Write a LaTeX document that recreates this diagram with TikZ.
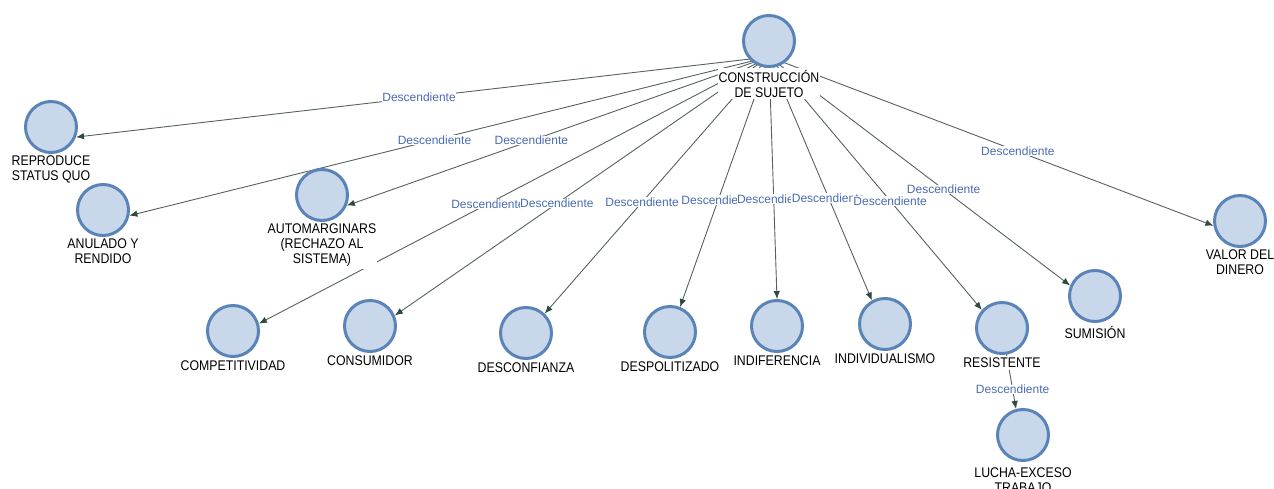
\documentclass[tikz,border=0pt]{standalone}
\usepackage{fontspec}
\newfontfamily\fuenteNodo[FakeStretch=0.88]{Liberation Sans}
\newfontfamily\fuenteFlecha{Liberation Sans}
\usetikzlibrary{arrows.meta, positioning, fit, backgrounds}
\definecolor{azulclaro}{HTML}{C8D7EA}
\definecolor{azulborde}{HTML}{5A84B8}
\definecolor{grislinea}{HTML}{56625F}
\definecolor{verdeflecha}{HTML}{2F4A3E}
\definecolor{azultexto}{HTML}{4A6CB4}
\colorlet{colConcepto}{azulclaro}
\colorlet{colBorde}{azulborde}
\colorlet{colLinea}{grislinea}
\colorlet{colEtiqueta}{azultexto}
\tikzset{
  nodoConcepto/.style={
    circle, draw=colBorde, fill=colConcepto, line width=3pt,
    minimum size=51pt, inner sep=0pt
  },
  etiquetaNodo/.style={
    align=center, font=\fuenteNodo\fontsize{14}{15}\selectfont,
    text=black, fill=white, inner xsep=1pt, inner ysep=2pt
  },
  flecha/.style={-{Latex[length=8pt, width=6.5pt, color=verdeflecha]},
    line width=0.9pt, colLinea},
  etiquetaFlecha/.style={font=\fuenteFlecha\fontsize{12}{12}\selectfont,
    text=colEtiqueta, fill=white, inner sep=0.5pt},
}

\begin{document}
\begin{tikzpicture}[x=1pt, y=-1pt]
  \useasboundingbox (0,0) rectangle (1274,489);

  % nodo raiz
  \node[nodoConcepto] (raiz) at (769,41) {};
  \node[etiquetaNodo, below=0pt of raiz] (raizE) {CONSTRUCCIÓN\\DE SUJETO};
  \node[fit=(raiz)(raizE), inner sep=0pt] (raizCaja) {};

  % conceptos descendientes
  \node[nodoConcepto] (rep) at (51,127) {};
  \node[etiquetaNodo, below=0pt of rep] (repE) {REPRODUCE\\STATUS QUO};
  \node[nodoConcepto] (anul) at (103,210) {};
  \node[etiquetaNodo, below=0pt of anul] (anulE) {ANULADO Y\\RENDIDO};
  \node[nodoConcepto] (autom) at (322,195) {};
  \node[etiquetaNodo, below=0pt of autom] (automE) {AUTOMARGINARS\\(RECHAZO AL\\SISTEMA)};
  \node[nodoConcepto] (comp) at (233,331) {};
  \node[etiquetaNodo, below=1pt of comp] (compE) {COMPETITIVIDAD};
  \node[nodoConcepto] (cons) at (370,326) {};
  \node[etiquetaNodo, below=1pt of cons] (consE) {CONSUMIDOR};
  \node[nodoConcepto] (desc) at (526,333) {};
  \node[etiquetaNodo, below=1pt of desc] (descE) {DESCONFIANZA};
  \node[nodoConcepto] (despol) at (670,332) {};
  \node[etiquetaNodo, below=1pt of despol] (despolE) {DESPOLITIZADO};
  \node[nodoConcepto] (indif) at (777,326) {};
  \node[etiquetaNodo, below=1pt of indif] (indifE) {INDIFERENCIA};
  \node[nodoConcepto] (indiv) at (885,324) {};
  \node[etiquetaNodo, below=1pt of indiv] (indivE) {INDIVIDUALISMO};
  \node[nodoConcepto] (resist) at (1002,328) {};
  \node[etiquetaNodo, below=1pt of resist] (resistE) {RESISTENTE};
  \node[nodoConcepto] (sumis) at (1095,296) {};
  \node[etiquetaNodo, below=1pt of sumis] (sumisE) {SUMISIÓN};
  \node[nodoConcepto] (valor) at (1240,221) {};
  \node[etiquetaNodo, below=0pt of valor] (valorE) {VALOR DEL\\DINERO};
  \node[nodoConcepto] (lucha) at (1023,435) {};
  \node[etiquetaNodo, below=4pt of lucha] (luchaE) {LUCHA-EXCESO\\TRABAJO};

  % conectores
  \begin{scope}[on background layer]
    \draw[flecha] (raizCaja.center) -- node[etiquetaFlecha, pos=0.505]{Descendiente} (rep.-22);
    \draw[flecha] (raizCaja.center) -- node[etiquetaFlecha, pos=0.523]{Descendiente} (anul.-12);
    \draw[flecha] (raizCaja.center) -- node[etiquetaFlecha, pos=0.563]{Descendiente} (autom.-23);
    \draw[flecha] (raizCaja.center) -- node[etiquetaFlecha, pos=0.551]{Descendiente} (comp.16);
    \draw[flecha] (raizCaja.center) -- node[etiquetaFlecha, pos=0.567]{Descendiente} (cons.23);
    \draw[flecha] (raizCaja.center) -- node[etiquetaFlecha, pos=0.566]{Descendiente} (desc.46);
    \draw[flecha] (raizCaja.center) -- node[etiquetaFlecha, pos=0.572]{Descendiente} (despol.68);
    \draw[flecha] (raizCaja.center) -- node[etiquetaFlecha, pos=0.587]{Descendiente} (indif.90);
    \draw[flecha] (raizCaja.center) -- node[etiquetaFlecha, pos=0.579]{Descendiente} (indiv.119);
    \draw[flecha] (raizCaja.center) -- node[etiquetaFlecha, pos=0.569]{Descendiente} (resist.138);
    \draw[flecha] (raizCaja.center) -- node[etiquetaFlecha, pos=0.58]{Descendiente} (sumis.157);
    \draw[flecha] (raizCaja.center) -- node[etiquetaFlecha, pos=0.56]{Descendiente} (valor.190);
    \draw[flecha] (resist.center) -- node[etiquetaFlecha, pos=0.76]{Descendiente} (lucha.105);
  \end{scope}
\end{tikzpicture}
\end{document}
